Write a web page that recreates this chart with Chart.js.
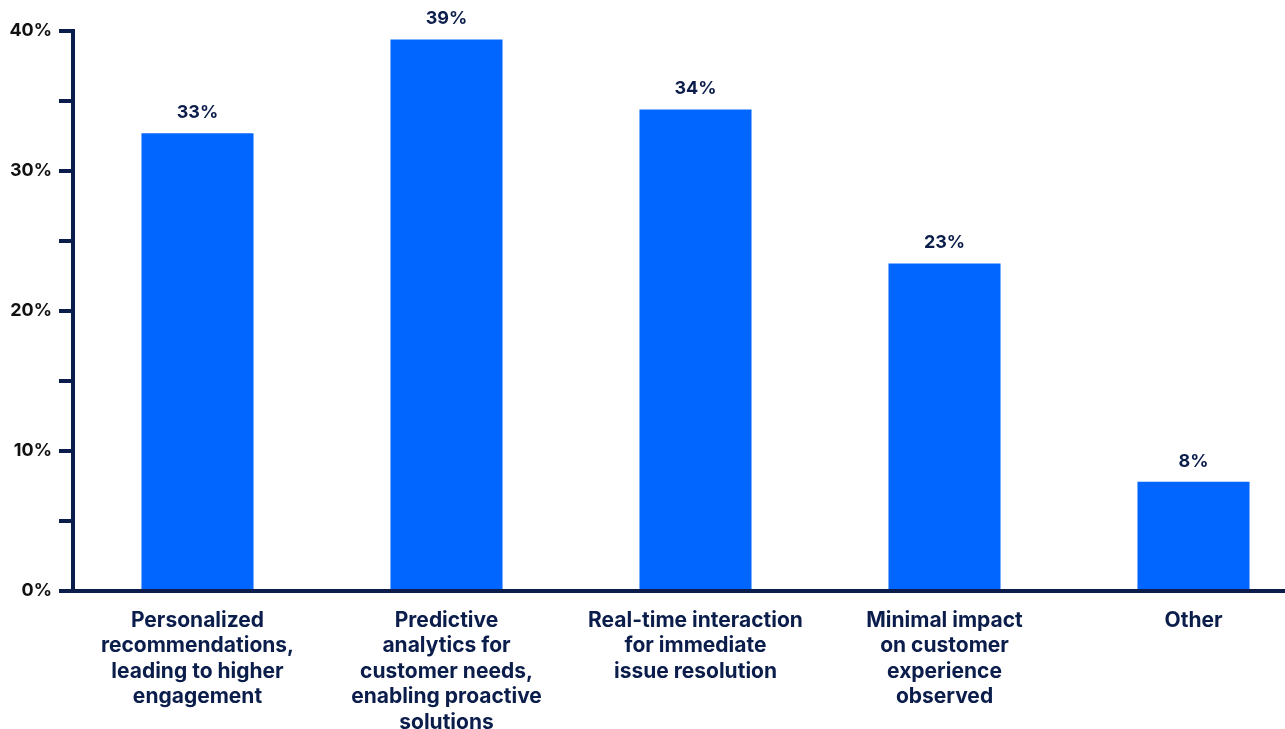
<!DOCTYPE html>
<html>
<head>
<meta charset="utf-8">
<script src="https://cdn.jsdelivr.net/npm/chart.js@4/dist/chart.umd.min.js"></script>
<style>
  html, body { margin: 0; padding: 0; background: #ffffff; overflow: hidden; }
  #wrap { position: relative; width: 1320px; height: 735px; }
</style>
</head>
<body>
<div id="wrap"><canvas id="chart"></canvas></div>
<script>
// Survey answers (share of respondents, %)
const categories = [
  ['Personalized', 'recommendations,', 'leading to higher', 'engagement'],
  ['Predictive', 'analytics for', 'customer needs,', 'enabling proactive', 'solutions'],
  ['Real-time interaction', 'for immediate', 'issue resolution'],
  ['Minimal impact', 'on customer', 'experience', 'observed'],
  ['Other']
];
const shares = [32.7, 39.4, 34.4, 23.4, 7.8];
const yTicks = [0, 10, 20, 30, 40];

const NAVY = '#0b1d4b';
const BLUE = '#0066ff';
const FONT = 'Inter, "Noto Sans", sans-serif';

// Percentage labels above each bar
const barValueLabels = {
  id: 'barValueLabels',
  afterDatasetsDraw(chart) {
    const ctx = chart.ctx;
    const meta = chart.getDatasetMeta(0);
    const data = chart.data.datasets[0].data;
    ctx.save();
    ctx.font = '700 18px ' + FONT;
    ctx.fillStyle = NAVY;
    ctx.textAlign = 'center';
    ctx.textBaseline = 'alphabetic';
    meta.data.forEach((bar, i) => {
      ctx.fillText(Math.round(data[i]) + '%', bar.x, bar.y - 15);
    });
    ctx.restore();
  }
};

new Chart(document.getElementById('chart'), {
  type: 'bar',
  data: {
    labels: categories,
    datasets: [{
      data: shares,
      backgroundColor: BLUE,
      borderWidth: 0,
      categoryPercentage: 1,
      barPercentage: 0.45
    }]
  },
  options: {
    responsive: true,
    maintainAspectRatio: false,
    animation: false,
    layout: { padding: { top: 31, right: 2, bottom: 0, left: 0 } },
    plugins: {
      legend: { display: false },
      tooltip: { enabled: false }
    },
    scales: {
      x: {
        z: 1,
        grid: { display: false, drawTicks: false },
        border: { display: true, color: NAVY, width: 4 },
        ticks: {
          color: NAVY,
          padding: 17,
          maxRotation: 0,
          autoSkip: false,
          font: { family: FONT, size: 21, weight: '700', lineHeight: 1.21 }
        },
        afterFit(scale) { scale.height = 144; }
      },
      y: {
        z: 1,
        min: 0,
        max: 40,
        grid: {
          drawOnChartArea: false,
          drawTicks: true,
          tickLength: 14,
          color: NAVY,
          lineWidth: 4
        },
        border: { display: true, color: NAVY, width: 4 },
        ticks: {
          stepSize: 5,
          padding: 7,
          color: '#111111',
          font: { family: FONT, size: 18, weight: '700' },
          callback: (v) => yTicks.includes(v) ? v + '%' : ''
        },
        afterFit(scale) { scale.width = 73; }
      }
    }
  },
  plugins: [barValueLabels]
});
</script>
</body>
</html>
